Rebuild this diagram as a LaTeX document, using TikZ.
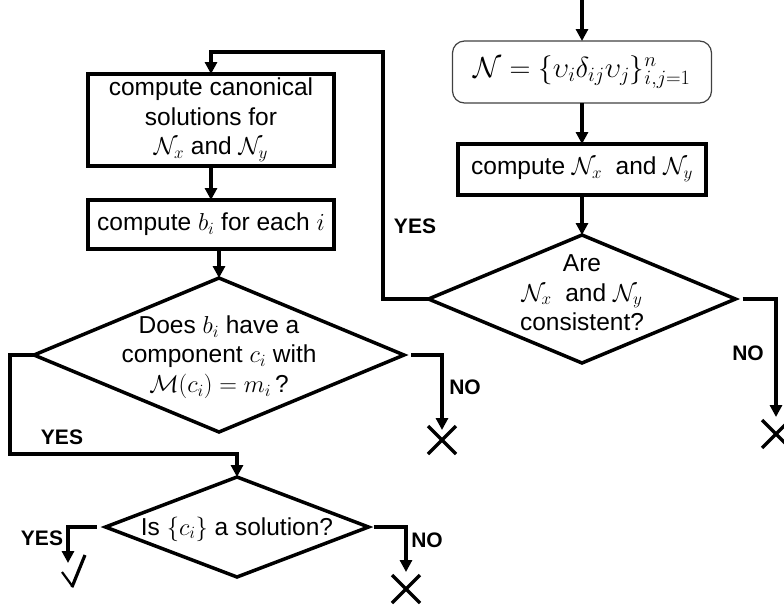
\RequirePackage{fix-cm}
\documentclass[tikz,border=0pt]{standalone}
\usepackage{fontspec}
\setmainfont{Liberation Sans}
\usetikzlibrary{arrows.meta,shapes.geometric,shapes.misc,calc}
\begin{document}
\begin{tikzpicture}[x=1pt,y=-1pt,
  every node/.style={inner sep=0pt, outer sep=0pt},
  flowbox/.style={draw, line width=3.5pt, rectangle, font=\fontsize{24.5}{29.5}\selectfont, align=center},
  decision/.style={draw, line width=3.5pt, diamond},
  dtext/.style={font=\fontsize{24.5}{29.5}\selectfont, align=center},
  arr/.style={line width=3.5pt, -{Triangle[width=12pt,length=12pt]}},
  lbl/.style={font=\fontsize{21}{21}\selectfont\bfseries},
  xmark/.style={cross out, draw, line width=3.5pt, minimum size=28pt},
]
\useasboundingbox (0,0) rectangle (784,611);

% right column
\coordinate (start) at (582,-5);
\node[draw=black!75, line width=1.2pt, rounded corners=12pt, minimum width=259pt, minimum height=62pt,
      font=\fontsize{29}{34}\selectfont] (nbox) at (582,72)
  {$\mathcal{N}=\{\upsilon_i\delta_{ij}\upsilon_j\}_{i,j=1}^{n}$};
\node[flowbox, minimum width=248pt, minimum height=51pt] (box3) at (582,169.5)
  {compute $\mathcal{N}_x$~ and $\mathcal{N}_y$};
\node[decision, minimum width=307pt, minimum height=128pt] (d3) at (582,299) {};
\node[dtext] (t3) at (582,293) {Are\\$\mathcal{N}_x$~ and $\mathcal{N}_y$\\consistent?};
\node[xmark] (x3) at (776,434) {};

% left column
\node[flowbox, minimum width=246pt, minimum height=92pt] (box1) at (211,120)
  {compute canonical\\solutions for\\$\mathcal{N}_x$ and $\mathcal{N}_y$};
\node[flowbox, minimum width=246pt, minimum height=49pt] (box2) at (211,224.5)
  {compute $b_i$ for each $i$};
\node[decision, minimum width=370pt, minimum height=154pt] (d1) at (219,355) {};
\node[dtext] (t1) at (219,357) {Does $b_i$ have a\\component $c_i$ with\\$\mathcal{M}(c_i)=m_i$\,?};
\node[xmark] (x1) at (442,440) {};
\node[decision, minimum width=263pt, minimum height=100pt] (d2) at (237,527) {};
\node[dtext] (t2) at (237,529) {Is $\{c_i\}$ a solution?};
\node[xmark] (x2) at (406,589) {};
\coordinate (chk) at (68,563);

% labels
\node[lbl] (ly1) at (62,437) {YES};
\node[lbl] (ly2) at (42,538) {YES};
\node[lbl] (ly3) at (415,226) {YES};
\node[lbl] (ln1) at (465,387) {NO};
\node[lbl] (ln2) at (427,540) {NO};
\node[lbl] (ln3) at (748,353) {NO};

% connectors
\coordinate (lc) at (383,52);
\coordinate (yc) at (10,454);
\draw[arr] (start) -- (nbox.north);
\draw[arr] (nbox.south) -- (box3.north);
\draw[arr] (box3.south) -- (d3.north);
\draw[arr] (d3.west) -| (lc) -| (box1.north);
\draw[arr, shorten <=7pt] (d3.east) -| ($(x3.north)+(0,-3)$);
\draw[arr] (box1.south) -- (box2.north);
\draw[arr] (box2.south -| d1.north) -- (d1.north);
\draw[arr] (d1.west) -| (yc) -| (d2.north);
\draw[arr, shorten <=7pt] (d1.east) -| ($(x1.north)+(0,4)$);
\draw[arr, shorten <=9pt] (d2.west) -| (chk);
\draw[arr, shorten <=5pt] (d2.east) -| ($(x2.north)+(0,-3)$);

% check mark
\draw[line width=2.2pt, line join=miter] (62,572) -- (73,587);
\draw[line width=3.2pt, line join=miter] (72,587) -- (85,555);
\end{tikzpicture}
\end{document}
